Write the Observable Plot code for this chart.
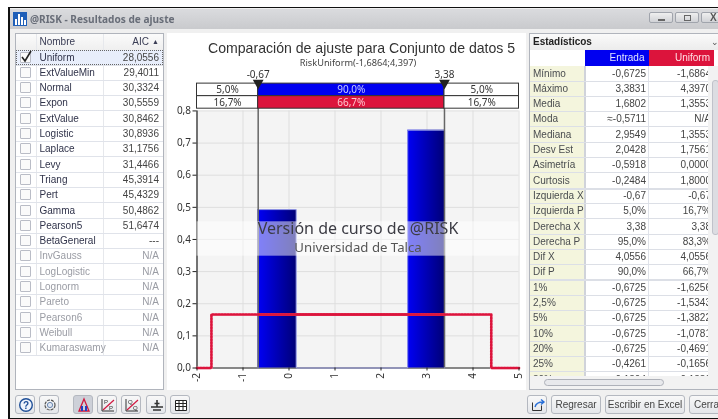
<!DOCTYPE html>
<html lang="es"><head><meta charset="utf-8">
<script src="https://cdn.jsdelivr.net/npm/d3@7"></script>
<script src="https://cdn.jsdelivr.net/npm/@observablehq/plot@0.6"></script>
<style>
html,body{margin:0;padding:0;background:#fff;overflow:hidden}
#page{position:relative;width:718px;height:419px;overflow:hidden;font-family:"Liberation Sans",sans-serif;font-size:10px;color:#3c3f48;filter:blur(.35px)}
#page div{position:absolute;box-sizing:border-box;white-space:nowrap}
.btn{border:1px solid #b4b8c0;border-radius:3px;background:linear-gradient(#f8f8f8,#e4e6ea);text-align:center;line-height:17px;color:#444}
.btn svg{position:absolute;left:2px;top:1px}
#page>svg{position:absolute;left:0;top:0}
</style></head><body><div id="page"></div>
<script>
// ---------- data ----------
const fitNames = ["Uniform","ExtValueMin","Normal","Expon","ExtValue","Logistic","Laplace","Levy","Triang","Pert","Gamma","Pearson5","BetaGeneral","InvGauss","LogLogistic","Lognorm","Pareto","Pearson6","Weibull","Kumaraswamy"];
const fitAIC = ["28,0556","29,4011","30,3324","30,5559","30,8462","30,8936","31,1756","31,4466","45,3914","45,4329","50,4862","51,6474","---","N/A","N/A","N/A","N/A","N/A","N/A","N/A"];
const statLabels = ["Mínimo","Máximo","Media","Moda","Mediana","Desv Est","Asimetría","Curtosis","Izquierda X","Izquierda P","Derecha X","Derecha P","Dif X","Dif P","1%","2,5%","5%","10%","20%","25%","30%"];
const statEntrada = ["-0,6725","3,3831","1,6802","≈-0,5711","2,9549","2,0428","-0,5918","-0,2484","-0,67","5,0%","3,38","95,0%","4,0556","90,0%","-0,6725","-0,6725","-0,6725","-0,6725","-0,6725","-0,4261","-0,1804"];
const statUniform = ["-1,6864","4,3970","1,3553","N/A","1,3553","1,7561","0,0000","1,8000","-0,67","16,7%","3,38","83,3%","4,0556","66,7%","-1,6256","-1,5343","-1,3822","-1,0781","-0,4691","-0,1656","0,1380"];
const binLo = [-0.6725, 0.16, 2.58];
const binHi = [0.16, 2.58, 3.3831];
const binDensity = [0.493, 0, 0.74];
const fitX = [-2, -1.6864, -1.6864, 4.397, 4.397, 5];
const fitY = [0, 0, 0.1667, 0.1667, 0, 0];
const markerX = [-0.67, 3.38];
const markerLabels = ["-0,67", "3,38"];
const bandEntrada = ["5,0%", "90,0%", "5,0%"];
const bandUniform = ["16,7%", "66,7%", "16,7%"];
const xTicks = [-2,-1,0,1,2,3,4,5];
const yTicks = [0,.1,.2,.3,.4,.5,.6,.7,.8];

// ---------- window chrome ----------
const page = document.getElementById("page");
function box(l,t,w,h,css="",html=""){const d=document.createElement("div");
  d.style.cssText=`left:${l}px;top:${t}px;width:${w}px;height:${h}px;${css}`;d.innerHTML=html;page.appendChild(d);return d;}
box(8,7,710,412,"background:#f0f0f0;border:solid #111;border-width:1.5px 0 1.5px 2px");
box(10,9,708,20,"background:linear-gradient(#dadbde,#c9cacd)");
box(13,12,14,14,"background:#fff",`<svg width="14" height="14" style="position:static;display:block"><rect width="14" height="14" fill="#1f5fb8"/><rect x="2" y="7" width="2" height="6" fill="#fff"/><rect x="5" y="2" width="2" height="11" fill="#fff"/><rect x="8" y="5" width="2" height="8" fill="#fff"/><rect x="11" y="8" width="2" height="5" fill="#fff"/></svg>`);
box(30,11,160,16,"font-family:'Noto Sans';font-weight:700;font-size:10.1px;line-height:16px;color:#686d78","@RISK - Resultados de ajuste");
const winBtn="border:1px solid #a0a4ac;border-radius:2px;background:linear-gradient(#efefef,#d0d2d6);";
box(649,12,24,11,winBtn,`<div style="left:8px;top:6px;width:7px;height:2px;background:#666"></div>`);
box(675,12,24,11,winBtn,`<div style="left:8px;top:2px;width:7px;height:6px;border:1.5px solid #666"></div>`);
box(701,12,24,11,winBtn+"color:#555;font-weight:700;font-size:10px;line-height:9px;padding-left:8px","X");

// left table
box(15,33,149,357,"background:#fff;border:1px solid #b0b4bc");
box(16,34,147,16,"background:linear-gradient(#fbfbfb,#efefef)");
box(36,34,1,322,"background:#e6e8ec");
box(103,34,1,322,"background:#e6e8ec");
box(39.5,34,60,16,"line-height:15px;color:#3a3d55","Nombre");
box(103,34,46,16,"line-height:15px;text-align:right;color:#3a3d55","AIC");
box(152,34,9,16,"line-height:15px;font-size:7px;color:#3a3d55","▲");
box(16,50,147,15,"background:#e8eefb;border:1px dotted #666");
fitNames.forEach((n,i)=>{
  const top=49.5+i*15.3, dim=i>12, c=dim?"#9a9ca4":"#30334a";
  box(16,top+15,147,1,"background:#e0e3ea");
  box(20,top+2,11,11,"background:#fafafa;border:1.5px solid #b9bcc6;border-radius:1px");
  box(39.5,top,64,15,`line-height:15px;color:${c}`,n);
  box(103,top,56,15,`line-height:15px;text-align:right;color:${dim?"#9a9ca4":"#444"}`,fitAIC[i]);
});
box(20,50,13,13,"",`<svg width="13" height="13" style="position:static;display:block"><path d="M2 7l3 4 6-10" fill="none" stroke="#222" stroke-width="1.6"/></svg>`);

// chart panel
box(167,33,359,357,"background:#fff");
box(208,41,300,15,"text-align:center;font-size:14.1px;line-height:15px;color:#333","Comparación de ajuste para Conjunto de datos 5");
box(280,57,156,11,"text-align:center;font-family:'Noto Sans';font-size:9.2px;line-height:11px;color:#444","RiskUniform(-1,6864;4,397)");

// right panel
box(529,33,189,357,"background:#fff;border:1px solid #b0b4bc;border-right:0");
box(530,34,188,16,"background:linear-gradient(#fafafa,#ececec);font-weight:700;font-size:10px;line-height:16px;padding-left:3px;color:#222","Estadísticos");
box(711,37,7,10,"color:#555;font-size:9px;line-height:10px","⌄");
box(585,50,63.5,16,"background:#0000f0;color:#dfe4ff;text-align:right;padding-right:4px;line-height:16px","Entrada");
box(649,50,65,16,"background:#dc143c;color:#ffdfe4;text-align:right;padding-right:4px;line-height:16px","Uniform");
const statsClip=box(530,66,178,310,"overflow:hidden");
function sbox(l,t,w,h,css,html){const d=document.createElement("div");
  d.style.cssText=`left:${l-530}px;top:${t-66}px;width:${w}px;height:${h}px;${css}`;d.textContent=html||"";statsClip.appendChild(d);return d;}
sbox(530,66,54,310,"background:#f4f5dd");
sbox(584,66,1.5,310,"background:#d0d3da");
sbox(648,66,1,310,"background:#e0e3ea");
statLabels.forEach((n,i)=>{
  const top=65.5+i*15.3;
  sbox(530,top+15,178,(i===7||i===13)?2:1,"background:#dcdfe6");
  sbox(533,top,51,15,"line-height:15px;color:#4a4d50",n);
  sbox(585,top,61,15,"line-height:15px;text-align:right;color:#444",statEntrada[i]);
  sbox(649,top,62,15,"line-height:15px;text-align:right;color:#444",statUniform[i]);
});
// scrollbars
box(708,66,10,310,"background:#f2f2f2");
box(712,80,7,155,"background:#dcdde2;border-radius:3px;border:1px solid #c0c2ca");
box(530,376,188,13,"background:#f2f2f2");
box(544,379,120,7,"background:#e8e9ec;border:1px solid #aeb1b9;border-radius:4px");

// toolbar icons
const ic = s => `<svg width="16" height="16" viewBox="0 0 16 16">${s}</svg>`;
const icons = {
  help: ic(`<circle cx="8" cy="8" r="6.3" fill="#eef3fb" stroke="#1f4f98" stroke-width="1.4"/><text x="8" y="11.5" text-anchor="middle" font-size="10" font-weight="700" fill="#1f4f98" font-family="Liberation Sans">?</text>`),
  gear: ic(`<circle cx="8" cy="8" r="5" fill="none" stroke="#555" stroke-width="1.2" stroke-dasharray="3 1"/><circle cx="8" cy="8" r="2.6" fill="#dfe6f2" stroke="#6a88b0"/>`),
  dens: ic(`<path d="M3 14L8 2l5 12z" fill="none" stroke="#d01840" stroke-width="1.3"/><path d="M5 14V9h2v5zM9 14V9h2v5z" fill="#2040c0"/>`),
  pp: ic(`<path d="M2 2v12h12" fill="none" stroke="#333"/><path d="M3 13L14 3" stroke="#d01840" stroke-width="1.2"/><text x="4" y="7" font-size="6" fill="#333" font-family="Liberation Sans">P</text><text x="9" y="13" font-size="6" fill="#333" font-family="Liberation Sans">P</text>`),
  qq: ic(`<path d="M2 2v12h12" fill="none" stroke="#333"/><path d="M3 13L14 3" stroke="#d01840" stroke-width="1.2"/><text x="4" y="7" font-size="6" fill="#333" font-family="Liberation Sans">Q</text><text x="9" y="13" font-size="6" fill="#333" font-family="Liberation Sans">Q</text>`),
  sum: ic(`<path d="M2 10h12M4 13h8M8 3v7M5.5 6.5h5" stroke="#333" stroke-width="1.6"/>`),
  grid: ic(`<path d="M2.5 3.5h11v10h-11zM2.5 6.5h11M2.5 9.5h11M6 3.5v10M10 3.5v10" fill="#fff" stroke="#222"/>`),
  out: ic(`<path d="M2.5 5.5v8h9v-5" fill="none" stroke="#333"/><path d="M5 10C6 6 9 5 13 5M11 2.5L14 5l-3 2.5" fill="none" stroke="#2a70d8" stroke-width="1.4"/>`)
};
[[15,"help"],[39,"gear"],[73,"dens"],[97,"pp"],[121,"qq"],[146,"sum"],[170,"grid"]].forEach(([x,k],i)=>{
  box(x,395,20,19,i===2?"background:#cdd0d8;":"",icons[k]).className="btn";});
box(527,395,20,19,"",icons.out).className="btn";
box(551,395,50,19,"","Regresar").className="btn";
box(605,395,80,19,"","Escribir en Excel").className="btn";
box(689,395,40,19,"text-align:left;padding-left:4px","Cerrar").className="btn";

// ---------- chart ----------
const comma = d => d.toFixed(1).replace(".", ",");
const bins = binLo.map((lo,i)=>({lo,hi:binHi[i],d:binDensity[i]}));
const fit = fitX.map((x,i)=>({x,y:fitY[i]}));
const xEdges = [-2, ...markerX, 5];
const bands = (labels, y1, y2, fills, colors) => labels.map((label,i)=>({label,x1:xEdges[i],x2:xEdges[i+1],y1,y2,fill:fills[i],color:colors[i]}));
const band = [
  ...bands(bandEntrada, 0.846, 0.885, ["#fff","#0000f0","#fff"], ["#333","#c8ccff","#333"]),
  ...bands(bandUniform, 0.807, 0.846, ["#fff","#dc143c","#fff"], ["#333","#ffc8d0","#333"])
];

const chart = Plot.plot({
  width: 718, height: 419,
  marginLeft: 196.5, marginRight: 199.5, marginTop: 78.3, marginBottom: 51.5,
  x: {domain: [-2, 5], label: null},
  y: {domain: [0, 0.9], label: null},
  style: {background: "transparent", fontFamily: '"Noto Sans",sans-serif', fontSize: "10px", color: "#333", overflow: "visible"},
  marks: [
    () => { const s = d3.create("svg:defs");
      const g = s.append("linearGradient").attr("id","barGrad");
      g.append("stop").attr("offset","0").attr("stop-color","#0000f6");
      g.append("stop").attr("offset","1").attr("stop-color","#000078");
      return s.node(); },
    Plot.rect([{}], {x1:-2, x2:5, y1:0, y2:0.8, fill:"#f4f4f4"}),
    Plot.ruleX(xTicks, {y1:0, y2:0.8, stroke:"#dedede"}),
    Plot.ruleY(yTicks, {x1:-2, x2:5, stroke:"#dedede"}),
    Plot.ruleY([0], {x1:-2, x2:5, stroke:"#222", strokeWidth:1.2}),
    Plot.ruleX([-2], {y1:0, y2:0.8, stroke:"#222", strokeWidth:1.2}),
    Plot.rect(bins.filter(b=>b.d>0), {x1:"lo", x2:"hi", y1:0, y2:"d", fill:"url(#barGrad)"}),
    Plot.line([{x:binLo[0],y:0},{x:binLo[0],y:binDensity[0]},{x:binHi[0],y:binDensity[0]},{x:binHi[0],y:0},{x:binLo[2],y:0},{x:binLo[2],y:binDensity[2]},{x:binHi[2],y:binDensity[2]},{x:binHi[2],y:0}], {x:"x", y:"y", stroke:"#9a9fe6", strokeWidth:1}),
    Plot.ruleX(markerX, {y1:0, y2:0.885, stroke:"#666", strokeWidth:1.5}),
    Plot.line(fit, {x:"x", y:"y", stroke:"#f7bcc9", strokeWidth:2.6}),
    Plot.line(fit, {x:"x", y:"y", stroke:"#dc143c", strokeWidth:2.6, strokeDasharray:"1.5,1.5"}),
    Plot.line(fit.slice(2,4).map((d,i)=>({x:markerX[i],y:d.y})), {x:"x", y:"y", stroke:"#dc143c", strokeWidth:2.4}),
    Plot.rect([{}], {x1:-2, x2:5, y1:0.348, y2:0.455, fill:"#fff", fillOpacity:0.5}),
    Plot.text(["Versión de curso de @RISK"], {x:1.5, y:0.432, text:d=>d, fontSize:16, fill:"#3c3c44"}),
    Plot.text(["Universidad de Talca"], {x:1.5, y:0.375, text:d=>d, fontSize:13.2, fill:"#555"}),
    Plot.rect(band, {x1:"x1", x2:"x2", y1:"y1", y2:"y2", fill:"fill", stroke:"#333", strokeWidth:1}),
    Plot.text(band, {x:d=>(d.x1+d.x2)/2, y:d=>(d.y1+d.y2)/2, text:"label", fill:"color", fontSize:10}),
    Plot.dot(markerX, {x:d=>d, y:0.887, symbol:"triangle", r:4, fill:"#222", rotate:180}),
    Plot.text(markerLabels, {x:(d,i)=>markerX[i], y:0.912, text:d=>d, fontSize:10, fill:"#333"}),
    Plot.axisY({ticks:yTicks, tickFormat:comma, tickSize:4, tickPadding:2, stroke:"#222", label:null}),
    Plot.axisX({ticks:xTicks, tickFormat:d=>String(d), tickRotate:-90, tickSize:3, tickPadding:2, stroke:"#222", label:null})
  ]
});
page.appendChild(chart);
</script></body></html>
